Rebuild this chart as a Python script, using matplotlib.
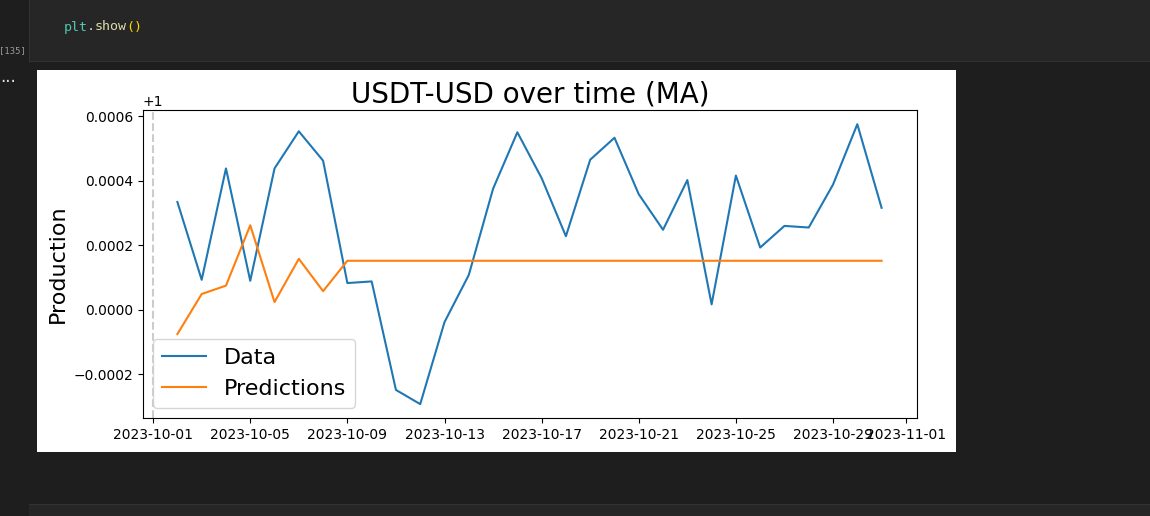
import numpy as np
import pandas as pd
import matplotlib
matplotlib.use("Agg")
import matplotlib.pyplot as plt
import matplotlib.dates as mdates
from matplotlib.patches import Rectangle

W, H = 1150, 516

dates = pd.date_range("2023-10-02", "2023-10-31")
data = [1.000334, 1.000093, 1.000438, 1.000090, 1.000438, 1.000553, 1.000462, 1.000083,
        1.000088, 0.999752, 0.999708, 0.999962, 1.000108, 1.000375, 1.000550, 1.000408,
        1.000228, 1.000465, 1.000533, 1.000358, 1.000248, 1.000402, 1.000017, 1.000416,
        1.000193, 1.000260, 1.000255, 1.000388, 1.000575, 1.000316]
preds = [0.999925, 1.000049, 1.000075, 1.000262, 1.000024, 1.000158, 1.000058, 1.000152,
         1.000152, 1.000152, 1.000152, 1.000152, 1.000152, 1.000152, 1.000152, 1.000152,
         1.000152, 1.000152, 1.000152, 1.000152, 1.000152, 1.000152, 1.000152, 1.000152,
         1.000152, 1.000152, 1.000152, 1.000152, 1.000152, 1.000152]
y_ticks = [0.9998, 1.0, 1.0002, 1.0004, 1.0006]
x_ticks = ["2023-10-01", "2023-10-05", "2023-10-09", "2023-10-13", "2023-10-17", "2023-10-21",
           "2023-10-25", "2023-10-29", "2023-11-01"]


def add_box(fig, x0, y0, x1, y1, color, z=0):
    # pixel box, y measured from the top of the image
    fig.add_artist(Rectangle((x0 / W, 1 - y1 / H), (x1 - x0) / W, (y1 - y0) / H,
                             transform=fig.transFigure, facecolor=color, edgecolor="none", zorder=z))


fig = plt.figure(figsize=(W / 100, H / 100), dpi=100, facecolor="#1e1e1e")

# notebook surroundings
add_box(fig, 30, 0, W, 61, "#262626")
add_box(fig, 29, 0, 30, 61, "#333333")
add_box(fig, 29, 61, W, 62, "#333333")
add_box(fig, 29, 504, W, 516, "#262626")
add_box(fig, 29, 504, W, 505, "#333333")
add_box(fig, 37, 70, 956, 452, "white")

code_y = 1 - 27 / H
fig.text(64 / W, code_y, "plt", color="#4ec9b0", family="DejaVu Sans Mono", fontsize=9.6, va="center")
fig.text(87 / W, code_y, ".", color="#d4d4d4", family="DejaVu Sans Mono", fontsize=9.6, va="center")
fig.text(95 / W, code_y, "show", color="#dcdcaa", family="DejaVu Sans Mono", fontsize=9.6, va="center")
fig.text(126 / W, code_y, "()", color="#ffd700", family="DejaVu Sans Mono", fontsize=9.6, va="center")
fig.text(12 / W, 1 - 51 / H, "[135]", color="#9a9a9a", family="DejaVu Sans Mono", fontsize=6.4,
         va="center", ha="center")
fig.text(8 / W, 1 - 77 / H, "...", color="#e0e0e0", fontsize=12, va="center", ha="center")

ax = fig.add_axes([143 / W, 1 - 418 / H, (917 - 143) / W, (418 - 110) / H])
ax.plot(dates, data, label="Data", color="#1f77b4", lw=1.5)
ax.plot(dates, preds, label="Predictions", color="#ff7f0e", lw=1.5)
ax.axvline(pd.Timestamp("2023-10-01"), color="#cccccc", ls="--", lw=1.5)

ax.set_xlim(pd.Timestamp("2023-09-30 14:00"), pd.Timestamp("2023-11-01 11:00"))
ax.set_ylim(0.999665, 1.000619)
ax.set_xticks(pd.to_datetime(x_ticks))
ax.xaxis.set_major_formatter(mdates.DateFormatter("%Y-%m-%d"))
ax.set_yticks(y_ticks)
ax.tick_params(labelsize=10, length=3.5, width=0.8)
ax.yaxis.get_offset_text().set_fontsize(10)
ax.set_title("USDT-USD over time (MA)", fontsize=20, pad=5.5)
ax.set_ylabel("Production", fontsize=16)
ax.legend(loc="lower left", fontsize=16, borderaxespad=0,
          bbox_to_anchor=(10 / 774, 10.5 / 308))

fig.savefig("out.png", dpi=100, facecolor=fig.get_facecolor())
